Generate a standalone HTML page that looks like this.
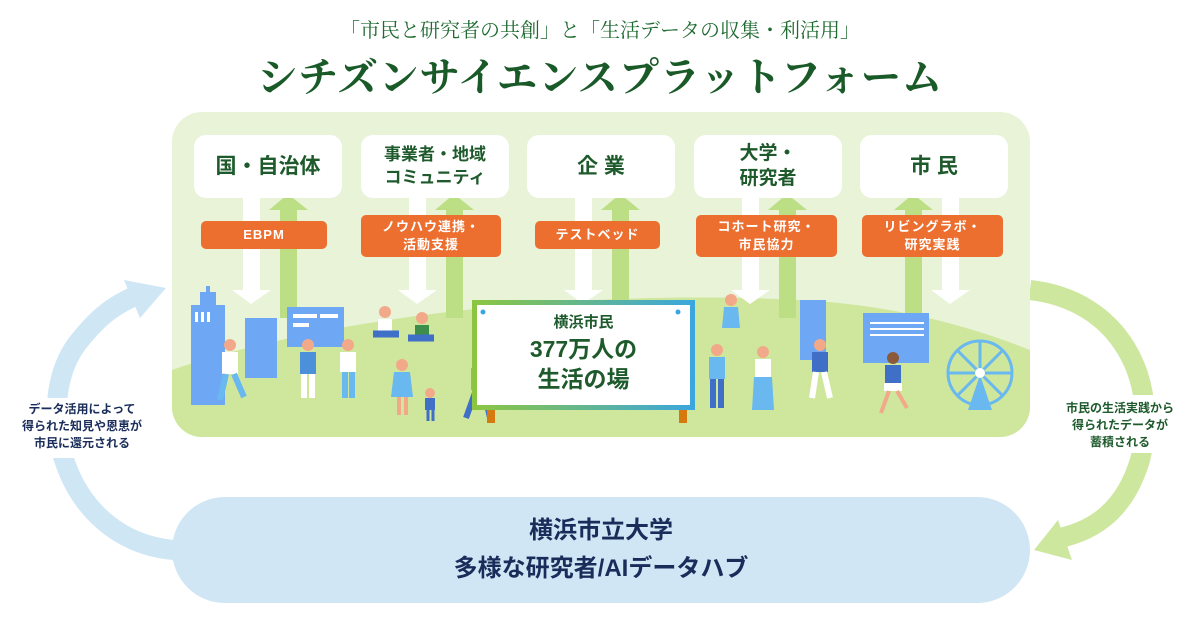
<!DOCTYPE html>
<html><head><meta charset="utf-8"><style>
*{margin:0;padding:0;box-sizing:border-box}
body{width:1200px;height:625px;background:#fff;position:relative;overflow:hidden;font-family:"Liberation Sans","Noto Sans CJK JP",sans-serif}
.a{position:absolute}
.t1{left:0;width:1200px;top:14px;text-align:center;font-family:"Liberation Serif","Noto Serif CJK SC",serif;font-size:20px;color:#1f6a31}
.t2{left:0;width:1200px;top:46px;text-align:center;font-family:"Liberation Serif","Noto Serif CJK SC",serif;font-size:40px;color:#1a5a28;font-weight:bold;letter-spacing:1px}
.box{background:#fff;border-radius:12px;width:148px;height:63px;top:135px;display:flex;align-items:center;justify-content:center;text-align:center;color:#1e5a2c;font-weight:bold;line-height:1.3}
.or{background:#ec6f30;border-radius:5px;color:#fff;font-weight:bold;font-size:13px;display:flex;align-items:center;justify-content:center;text-align:center;line-height:1.4;letter-spacing:1px}
.lbl{font-size:12px;font-weight:bold;text-align:center;line-height:17px}
.pill{left:172px;top:497px;width:858px;height:106px;border-radius:53px;background:#d0e6f5;color:#1a2d5a;font-weight:bold;font-size:24px;text-align:center;line-height:38px;padding-top:15px}
</style></head><body>
<div class="a t1">「市民と研究者の共創」と「生活データの収集・利活用」</div>
<div class="a t2">シチズンサイエンスプラットフォーム</div>

<svg class="a" style="left:0;top:0" width="1200" height="625">
<defs><linearGradient id="sg" x1="0" x2="1"><stop offset="0" stop-color="#8cc63f"/><stop offset="1" stop-color="#3aa6e0"/></linearGradient>
<clipPath id="cp"><rect x="172" y="112" width="858" height="325" rx="30"/></clipPath></defs>
<!-- arcs -->
<path d="M174 550 C 60 540, 30 400, 80 340 C 100 315, 115 305, 135 296" fill="none" stroke="#cfe6f5" stroke-width="20"/>
<polygon points="166,288 124,280 140,318" fill="#cfe6f5"/>
<path d="M1030 290 C 1120 300, 1160 380, 1140 460 C 1125 510, 1095 530, 1060 538" fill="none" stroke="#cde79e" stroke-width="20"/>
<polygon points="1034,550 1058,520 1072,560" fill="#cde79e"/>
<rect x="40" y="398" width="90" height="60" fill="#fff"/>
<rect x="1075" y="395" width="95" height="58" fill="#fff"/>
<!-- panel -->
<rect x="172" y="112" width="858" height="325" rx="30" fill="#e8f3d8"/>
<g clip-path="url(#cp)">
<path d="M172 370 C 350 310, 600 290, 800 300 C 900 305, 980 330, 1030 350 L1030 440 L172 440Z" fill="#cfe79c"/>
</g>
<g>
<g fill="#fff">
<rect x="243" y="198" width="17" height="92"/><polygon points="232,290 271,290 251,304"/>
<rect x="409" y="198" width="17" height="92"/><polygon points="398,290 437,290 417,304"/>
<rect x="575" y="198" width="17" height="92"/><polygon points="564,290 603,290 583,304"/>
<rect x="742" y="198" width="17" height="92"/><polygon points="731,290 770,290 750,304"/>
<rect x="942" y="198" width="17" height="92"/><polygon points="931,290 970,290 950,304"/>
</g>
<g fill="#bcdf85">
<rect x="280" y="208" width="17" height="110"/><polygon points="269,210 308,210 288,194"/>
<rect x="446" y="208" width="17" height="110"/><polygon points="435,210 474,210 454,194"/>
<rect x="612" y="208" width="17" height="95"/><polygon points="601,210 640,210 620,194"/>
<rect x="779" y="208" width="17" height="110"/><polygon points="768,210 807,210 787,194"/>
<rect x="905" y="208" width="17" height="110"/><polygon points="894,210 933,210 913,194"/>
</g>
</g>
<g fill="#6ea8f5">
<rect x="191" y="305" width="34" height="100"/><rect x="200" y="292" width="16" height="14"/><rect x="206" y="286" width="4" height="8"/>
<rect x="245" y="318" width="32" height="60"/>
<rect x="287" y="307" width="57" height="40"/>
<rect x="800" y="300" width="26" height="60"/>
<rect x="863" y="313" width="66" height="50"/>
</g>
<g fill="#fff"><rect x="195" y="312" width="3" height="10"/><rect x="201" y="312" width="3" height="10"/><rect x="207" y="312" width="3" height="10"/><rect x="293" y="314" width="24" height="4"/><rect x="320" y="314" width="18" height="4"/><rect x="293" y="323" width="16" height="4"/><rect x="870" y="322" width="54" height="2"/><rect x="870" y="328" width="54" height="2"/><rect x="870" y="334" width="54" height="2"/></g>
<g stroke="#6ab8f0" stroke-width="3" fill="none"><circle cx="980" cy="373" r="32"/>
<path d="M948 373H1012M980 341V405M957 350L1003 396M1003 350L957 396"/></g>
<polygon points="980,375 968,410 992,410" fill="#6ab8f0"/><circle cx="980" cy="373" r="5" fill="#fff"/>
<g>
<g transform="translate(230,345)"><circle cx="0" cy="0" r="6" fill="#f2a98a"/><rect x="-8" y="7" width="16" height="22" fill="#fff"/><path d="M-4 29 L-10 55 M4 29 L14 52" stroke="#6ab8f0" stroke-width="6"/></g>
<g transform="translate(308,345)"><circle cx="0" cy="0" r="6" fill="#f2a98a"/><rect x="-8" y="7" width="16" height="22" fill="#4b90d9"/><path d="M-4 29 V53 M4 29 V53" stroke="#fff" stroke-width="6"/></g>
<g transform="translate(348,345)"><circle cx="0" cy="0" r="6" fill="#f2a98a"/><rect x="-8" y="7" width="16" height="20" fill="#fff"/><path d="M-3 27 V53 M4 27 V53" stroke="#6ab8f0" stroke-width="6"/></g>
<g transform="translate(385,312)"><circle cx="0" cy="0" r="6" fill="#f2a98a"/><rect x="-7" y="7" width="14" height="12" fill="#fff"/><path d="M-12 22 H14" stroke="#3f6fc7" stroke-width="7"/></g>
<g transform="translate(422,318)"><circle cx="0" cy="0" r="6" fill="#f2a98a"/><rect x="-7" y="7" width="14" height="12" fill="#3e8d4b"/><path d="M-14 20 H12" stroke="#3f6fc7" stroke-width="7"/></g>
<g transform="translate(402,365)"><circle cx="0" cy="0" r="6" fill="#f2a98a"/><path d="M-8 7 H8 L11 32 H-11Z" fill="#6ab8f0"/><path d="M-3 32 V50 M4 32 V50" stroke="#f2a98a" stroke-width="4"/></g>
<g transform="translate(430,393)"><circle cx="0" cy="0" r="5" fill="#f2a98a"/><rect x="-5" y="5" width="10" height="12" fill="#3f6fc7"/><path d="M-2 17 V28 M3 17 V28" stroke="#3f6fc7" stroke-width="3"/></g>
<g transform="translate(480,360)"><circle cx="0" cy="0" r="7" fill="#f2a98a"/><rect x="-9" y="8" width="18" height="22" fill="#6ab8f0"/><path d="M-4 30 L-14 58 M4 30 L10 58" stroke="#3f6fc7" stroke-width="6"/></g>
<g transform="translate(731,300)"><circle cx="0" cy="0" r="6" fill="#f2a98a"/><path d="M-7 7 H7 L9 28 H-9Z" fill="#6ab8f0"/></g>
<g transform="translate(717,350)"><circle cx="0" cy="0" r="6" fill="#f2a98a"/><rect x="-8" y="7" width="16" height="22" fill="#6ab8f0"/><path d="M-4 29 V58 M4 29 V58" stroke="#3f6fc7" stroke-width="6"/></g>
<g transform="translate(763,352)"><circle cx="0" cy="0" r="6" fill="#f2a98a"/><rect x="-8" y="7" width="16" height="18" fill="#fff"/><path d="M-9 25 H9 L11 58 H-11Z" fill="#6ab8f0"/></g>
<g transform="translate(820,345)"><circle cx="0" cy="0" r="6" fill="#f2a98a"/><rect x="-8" y="7" width="16" height="20" fill="#3f6fc7"/><path d="M-4 27 L-8 53 M4 27 L10 53" stroke="#fff" stroke-width="6"/></g>
<g transform="translate(893,358)"><circle cx="0" cy="0" r="6" fill="#8a5a3a"/><rect x="-8" y="7" width="16" height="18" fill="#3f6fc7"/><rect x="-9" y="25" width="18" height="8" fill="#fff"/><path d="M-4 33 L-12 55 M4 33 L14 50" stroke="#f2a98a" stroke-width="4"/></g>
</g>
<rect x="487" y="405" width="8" height="18" fill="#d6790f"/><rect x="679" y="405" width="8" height="18" fill="#d6790f"/>
<rect x="472" y="300" width="223" height="110" fill="url(#sg)"/>
<rect x="477" y="305" width="213" height="100" fill="#fff"/>
<circle cx="483" cy="312" r="2.5" fill="#3aa6e0"/><circle cx="678" cy="312" r="2.5" fill="#3aa6e0"/>
</svg>

<div class="a" style="left:477px;top:312px;width:213px;text-align:center;color:#1e5a2c;font-weight:bold">
<div style="font-size:15px;line-height:22px">横浜市民</div>
<div style="font-size:23px;line-height:30px">377万人の<br>生活の場</div></div>

<div class="a box" style="left:194px;font-size:21px">国・自治体</div>
<div class="a box" style="left:361px;font-size:17px">事業者・地域<br>コミュニティ</div>
<div class="a box" style="left:527px;font-size:21px">企 業</div>
<div class="a box" style="left:694px;font-size:19px">大学・<br>研究者</div>
<div class="a box" style="left:860px;font-size:21px">市 民</div>

<div class="a or" style="left:201px;top:221px;width:126px;height:28px">EBPM</div>
<div class="a or" style="left:361px;top:215px;width:140px;height:42px">ノウハウ連携・<br>活動支援</div>
<div class="a or" style="left:535px;top:221px;width:125px;height:28px">テストベッド</div>
<div class="a or" style="left:696px;top:215px;width:141px;height:42px">コホート研究・<br>市民協力</div>
<div class="a or" style="left:862px;top:215px;width:141px;height:42px">リビングラボ・<br>研究実践</div>

<div class="a lbl" style="left:2px;top:401px;width:160px;color:#1a2d5a">データ活用によって<br>得られた知見や恩恵が<br>市民に還元される</div>
<div class="a lbl" style="left:1040px;top:400px;width:160px;color:#1e5a2c">市民の生活実践から<br>得られたデータが<br>蓄積される</div>

<div class="a pill">横浜市立大学<br>多様な研究者/AIデータハブ</div>
</body></html>
